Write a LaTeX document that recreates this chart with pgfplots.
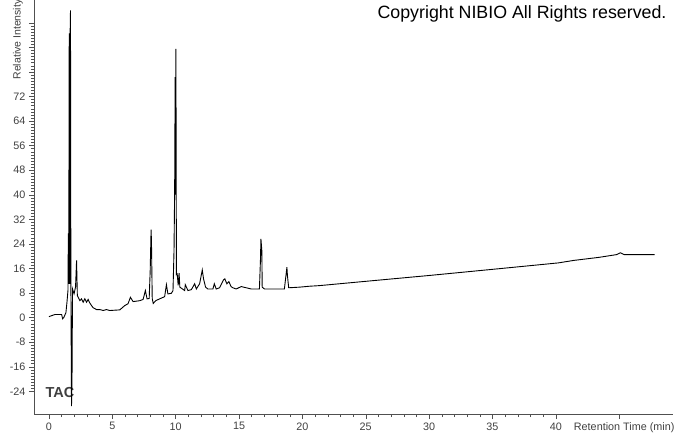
\documentclass[border=0pt]{standalone}
\usepackage{fontspec}
\setmainfont{Liberation Sans}
\usepackage{pgfplots}
\pgfplotsset{compat=1.18}
\definecolor{axgray}{HTML}{505050}
\definecolor{txtgray}{HTML}{404040}

\begin{document}
\begin{tikzpicture}
\useasboundingbox (-34pt,-20pt) rectangle (640pt,414pt);
% label under the trace
\node[font=\bfseries\fontsize{14.5}{16}\selectfont, text=txtgray] at (26pt,21pt) {TAC};
\begin{axis}[
    scale only axis,
    width=639pt, height=414pt,
    xmin=-1.18, xmax=49.25,
    ymin=-31.4, ymax=103.4,
    axis lines=left,
    axis line style={-, axgray},
    tick align=outside,
    major tick length=5pt,
    minor tick length=3pt,
    every tick/.style={axgray},
    xtick={0,5,...,40},
    minor x tick num=4,
    extra x ticks={45},
    extra x tick labels={Retention Time (min)},
    extra x tick style={xticklabel style={xshift=5pt}},
    ytick={-24,-16,...,96},
    yticklabels={-24,-16,-8,0,8,16,24,32,40,48,56,64,72,,,},
    minor y tick num=7,
    tick label style={font=\fontsize{10.8}{12}\selectfont, text=txtgray},
    /pgf/number format/assume math mode=true,
]
\addplot[black, line width=0.9pt, sharp plot, mark=none] table {
x y
0 0.3
0.47 1.0
1.0 1.0
1.08 -0.4
1.18 0.1
1.34 1.6
1.42 4.9
1.50 8.8
1.53 27.4
1.56 11
1.60 92.5
1.63 11
1.67 92.5
1.70 100
1.73 12
1.78 -28.8
1.82 -20
1.86 9.3
1.98 7.7
2.10 10
2.18 18.6
2.24 7.2
2.31 6.6
2.44 5.5
2.57 6.1
2.70 5.0
2.83 6.1
2.97 5.0
3.09 5.9
3.23 4.7
3.36 3.9
3.49 3.2
3.76 2.6
4.02 2.6
4.28 2.3
4.54 2.6
4.80 2.3
5.59 2.5
5.98 3.9
6.24 4.5
6.43 6.6
6.64 5.2
7.17 5.5
7.43 5.9
7.61 8.8
7.74 6.1
7.91 6.2
7.99 15.3
8.06 28.6
8.09 25
8.15 6.2
8.23 4.6
8.43 5.5
8.74 6.1
9.13 6.8
9.27 10.7
9.39 7.7
9.66 7.9
9.79 8.8
9.87 21.8
9.92 41.4
9.96 78.3
9.99 40
10.02 87.5
10.06 14
10.12 14.2
10.20 10.5
10.27 14.5
10.33 9.9
10.71 8.8
10.76 10.7
10.97 8.8
11.24 9.1
11.50 11.0
11.63 9.3
11.89 11.0
12.10 15.5
12.20 12.6
12.36 9.9
12.54 9.3
12.94 9.3
13.05 11.0
13.20 9.3
13.46 9.7
13.78 12.3
13.88 12.6
14.04 11.0
14.20 11.7
14.37 10.1
14.51 9.7
14.78 9.3
15.17 10.1
15.57 9.7
15.96 9.3
16.61 9.3
16.69 18.6
16.73 25.6
16.80 21.8
16.83 9.9
17.01 9.3
18.58 9.3
18.78 16.4
18.82 13.7
18.92 9.7
19.76 9.9
20.55 10.2
21.34 10.4
25 11.8
30 13.7
35 15.7
40.2 17.8
41.4 18.6
43.4 19.6
44.8 20.5
45.1 21.1
45.4 20.5
47.8 20.5
};
\end{axis}
\node[rotate=90, anchor=east, font=\fontsize{10.5}{12}\selectfont, text=txtgray] at (-16pt,418pt) {Relative Intensity};
\node[font=\fontsize{17.8}{20}\selectfont] at (488pt,400pt) {Copyright NIBIO All Rights reserved.};
\end{tikzpicture}
\end{document}
